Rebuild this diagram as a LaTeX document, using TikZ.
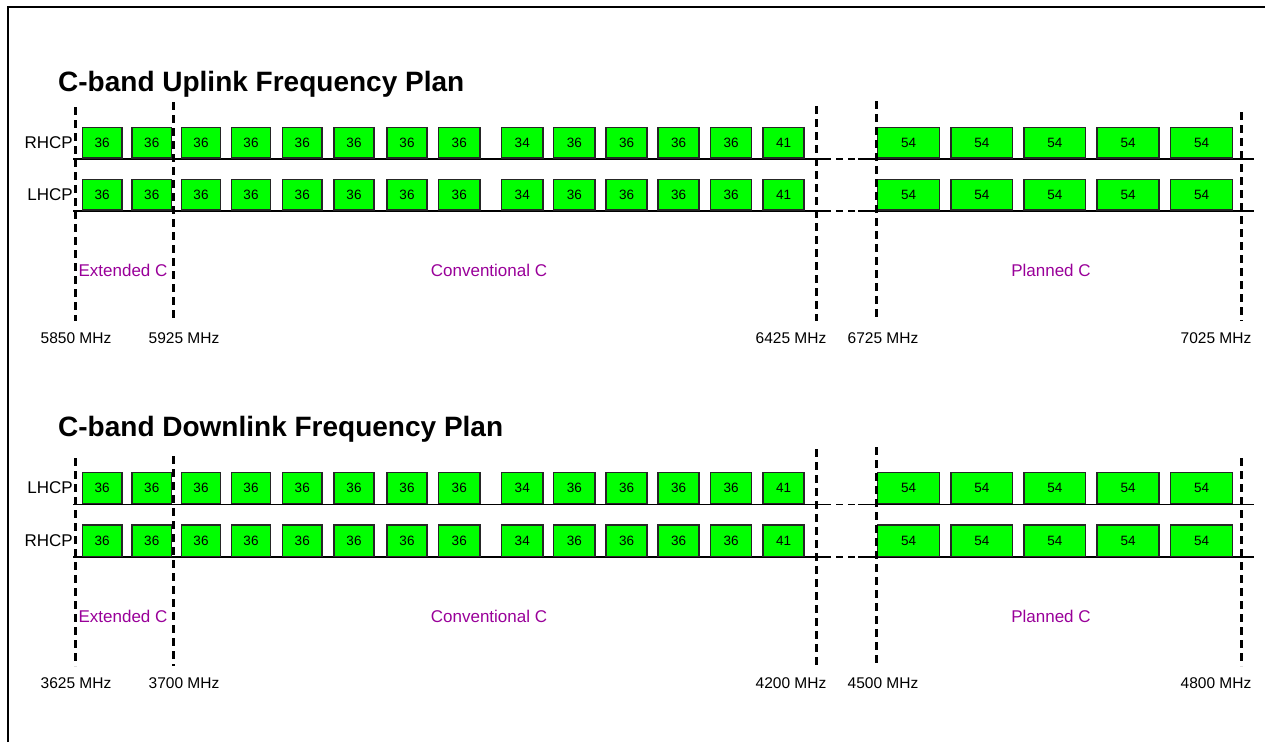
\documentclass[tikz,border=0pt]{standalone}
\usepackage{fontspec}
\setmainfont{Liberation Sans}
\definecolor{chgreen}{RGB}{0,255,0}
\definecolor{bandpurple}{RGB}{153,0,153}
\tikzset{
  chan/.style={draw=black!85, line width=1.4pt, fill=chgreen, inner sep=0pt,
    font=\fontsize{13.5}{15}\selectfont},
  axisline/.style={draw=black, line width=1.4pt},
  gapline/.style={draw=black, line width=1.9pt, dash pattern=on 7pt off 5pt},
  edgeline/.style={draw=black, line width=3pt, dash pattern=on 8pt off 5pt},
  rowlab/.style={anchor=east, inner sep=0pt, font=\fontsize{17}{20}\selectfont},
  bandlab/.style={inner sep=0pt, text=bandpurple, font=\fontsize{17}{20}\selectfont},
  freqlab/.style={inner sep=0pt, font=\fontsize{15.5}{18}\selectfont},
  plantitle/.style={anchor=base west, inner sep=0pt, font=\bfseries\fontsize{28}{32}\selectfont},
  frameline/.style={draw=black, line width=2pt}
}
\newcommand\chanrow[3]{%
  \foreach \l/\r/\t [count=\i] in {82.5/122/36, 132/171.5/36, 181.5/220.5/36,
      231.5/270.5/36, 282.5/322/36, 334/374/36, 387/427/36, 438.5/480/36,
      501.5/543/34, 553.5/595/36, 606/647/36, 658/699/36, 710.5/751.5/36,
      763/804/41, 877.5/939.5/54, 951/1012.5/54, 1024/1085.5/54,
      1097/1159/54, 1170.5/1232.5/54}{
    \node[chan, minimum width={\r-\l}, minimum height={#3-#2}]
      (#1\i) at ({(\l+\r)/2},{(#2+#3)/2}) {\t};
  }}
\newcommand\axisrow[2]{%
  \coordinate (#1a) at (73,#2);
  \coordinate (#1b) at (824,#2);
  \coordinate (#1c) at (858,#2);
  \coordinate (#1d) at (1254,#2);
  \draw[axisline] (#1a) -- (#1b);
  \draw[gapline] (#1b) -- (#1c);
  \draw[axisline] (#1c) -- (#1d);}
\begin{document}
\begin{tikzpicture}[x=1pt,y=-1pt]
\useasboundingbox (0,0) rectangle (1265,742);
% frame
\coordinate (fbl) at (8,742);
\coordinate (ftl) at (8,7);
\coordinate (ftr) at (1265,7);
\draw[frameline] (fbl) -- (ftl) -- (ftr);

% ================= Uplink =================
\node[plantitle] (uptitle) at (58,91) {C-band Uplink Frequency Plan};
\axisrow{ua}{159}
\axisrow{ub}{211}
\chanrow{ur}{127.5}{158}
\chanrow{ul}{179.5}{210}
\node[rowlab] (urlab) at (73,142.5) {RHCP};
\node[rowlab] (ullab) at (73,195) {LHCP};
% band edges
\foreach \x/\t/\b [count=\k] in {75/107/321, 173.5/102/321, 816/106/321, 876/101/321, 1241/112/321}{
  \coordinate (ue\k t) at (\x,\t);
  \coordinate (ue\k b) at (\x,\b);
  \draw[edgeline] (ue\k t) -- (ue\k b);
}
\node[bandlab] (uext) at (123,270) {Extended C};
\node[bandlab] (uconv) at (489,270) {Conventional C};
\node[bandlab] (uplan) at (1051,270) {Planned C};
\node[freqlab] (uf1) at (76,338) {5850 MHz};
\node[freqlab] (uf2) at (184,338) {5925 MHz};
\node[freqlab] (uf3) at (791,338) {6425 MHz};
\node[freqlab] (uf4) at (883,338) {6725 MHz};
\node[freqlab] (uf5) at (1216,338) {7025 MHz};

% ================= Downlink =================
\node[plantitle] (dntitle) at (58,436.5) {C-band Downlink Frequency Plan};
\axisrow{da}{504.5}
\axisrow{db}{557}
\chanrow{dl}{472.5}{503.5}
\chanrow{dr}{525}{556.5}
\node[rowlab] (dllab) at (73,488) {LHCP};
\node[rowlab] (drlab) at (73,541) {RHCP};
\foreach \x/\t/\b [count=\k] in {75/458/666, 173.5/456/666, 816/449/666, 876/447/666, 1241/458/666}{
  \coordinate (de\k t) at (\x,\t);
  \coordinate (de\k b) at (\x,\b);
  \draw[edgeline] (de\k t) -- (de\k b);
}
\node[bandlab] (dext) at (123,616) {Extended C};
\node[bandlab] (dconv) at (489,616) {Conventional C};
\node[bandlab] (dplan) at (1051,616) {Planned C};
\node[freqlab] (df1) at (76,683.5) {3625 MHz};
\node[freqlab] (df2) at (184,683.5) {3700 MHz};
\node[freqlab] (df3) at (791,683.5) {4200 MHz};
\node[freqlab] (df4) at (883,683.5) {4500 MHz};
\node[freqlab] (df5) at (1216,683.5) {4800 MHz};
\end{tikzpicture}
\end{document}
